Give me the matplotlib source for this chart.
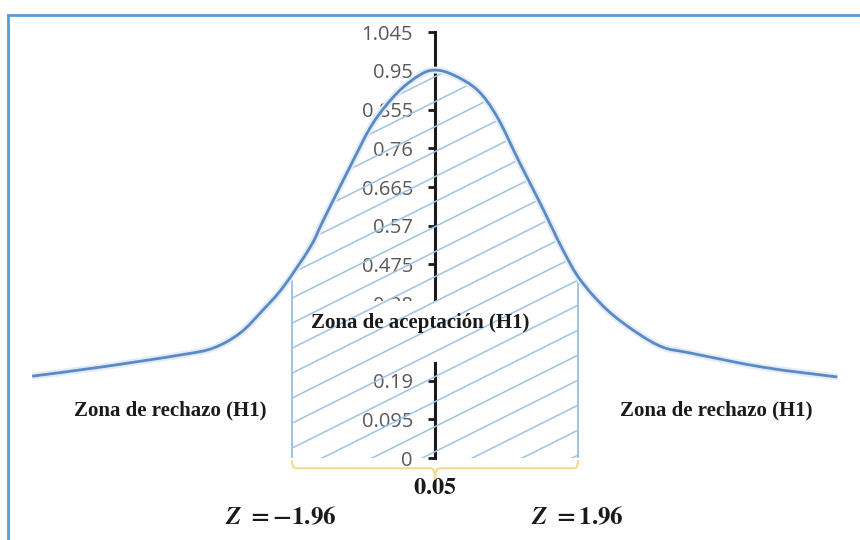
# Normal curve with acceptance / rejection zones
import numpy as np
import matplotlib.pyplot as plt
import matplotlib.patheffects as pe
from matplotlib.path import Path
from matplotlib.patches import PathPatch, Rectangle, Polygon
from matplotlib.collections import LineCollection
from matplotlib.lines import Line2D

plt.rcParams['mathtext.fontset'] = 'stix'

# Curve (z, height)
z_vals = [-5.52, -4.59, -3.49, -3.04, -2.67, -2.36, -2.08, -1.71, -1.53, -1.12, -0.85,
          -0.52, -0.21, 0.0, 0.25, 0.58, 0.85, 1.16, 1.44, 1.75, 1.99, 2.36, 2.77, 3.12,
          3.49, 4.49, 5.51]
heights = [0.201, 0.223, 0.253, 0.270, 0.307, 0.363, 0.420, 0.518, 0.584, 0.731, 0.822,
           0.896, 0.940, 0.952, 0.940, 0.903, 0.837, 0.724, 0.625, 0.511, 0.437, 0.363,
           0.307, 0.272, 0.258, 0.223, 0.199]
crit = [-1.96, 1.96]
y_ticks = [0, 0.095, 0.19, 0.285, 0.38, 0.475, 0.57, 0.665, 0.76, 0.855, 0.95, 1.045]
y_labels = ['0', '0.095', '0.19', '0.285', '0.38', '0.475', '0.57', '0.665', '0.76',
            '0.855', '0.95', '1.045']

curve_col = '#5A8AC6'
hatch_col = '#9DC3E6'

fig = plt.figure(figsize=(8.6, 5.4), dpi=100)
ax = fig.add_axes([0, 0, 1, 1])
ax.set_xlim(-5.96, 5.82)
ax.set_ylim(-0.201, 1.124)

# y axis through x=0
for s in ['top', 'right', 'bottom']:
    ax.spines[s].set_visible(False)
ax.spines['left'].set_position(('data', 0))
ax.spines['left'].set_bounds(0, 1.045)
ax.spines['left'].set_linewidth(2.2)
ax.spines['left'].set_color('#1a1a1a')
ax.set_xticks([])
ax.set_yticks(y_ticks)
ax.set_yticklabels(y_labels)
ax.tick_params(axis='y', direction='out', length=5, width=2, color='#1a1a1a',
               labelcolor='#595959', labelsize=14.5, pad=11)
for lbl in ax.get_yticklabels():
    lbl.set_fontfamily('Open Sans')

# smooth line (Catmull-Rom -> bezier), like the spreadsheet smoothing
P = np.column_stack([z_vals, heights])
ext = np.vstack([P[0], P, P[-1]])
verts = [P[0]]
codes = [Path.MOVETO]
for i in range(1, len(ext) - 2):
    p0, p1, p2, p3 = ext[i - 1], ext[i], ext[i + 1], ext[i + 2]
    verts += [p1 + (p2 - p0) / 6, p2 - (p3 - p1) / 6, p2]
    codes += [Path.CURVE4] * 3
curve = Path(verts, codes)
ax.add_patch(PathPatch(curve, fill=False, edgecolor=curve_col, lw=2, zorder=5,
                       path_effects=[pe.Stroke(linewidth=5, foreground='#E3ECF7'),
                                     pe.Normal()]))

# acceptance region under the curve
poly = curve.to_polygons(closed_only=False)[0]
xs, ys = poly[:, 0], poly[:, 1]
inside = (xs > crit[0]) & (xs < crit[1])
top_l = np.interp(crit[0], xs, ys)
top_r = np.interp(crit[1], xs, ys)
region = np.vstack([[crit[0], 0], [crit[0], top_l], np.column_stack([xs[inside], ys[inside]]),
                    [crit[1], top_r], [crit[1], 0]])
clip = Polygon(region, closed=True, facecolor='none', edgecolor='none')
ax.add_patch(clip)

# white box hiding the axis behind the label
ax.add_patch(Rectangle((-1.67, 0.236), 2.97, 0.149, facecolor='white', edgecolor='none', zorder=3))

# diagonal hatch lines
sx = 860 / (5.82 + 5.96)
sy = 540 / (1.124 + 0.201)
slope = 0.5 * sx / sy
step = 25 / sy
segs = []
for k in range(-4, 30):
    c = 0.752 - step * k
    segs.append([(-2.5, c - 2.5 * slope), (2.5, c + 2.5 * slope)])
lc = LineCollection(segs, colors=hatch_col, linewidths=1.1, zorder=4)
lc.set_clip_path(clip)
ax.add_collection(lc)
ax.vlines(crit, 0, [top_l, top_r], colors=hatch_col, lw=1.4, zorder=4)

# brace under the acceptance region
y0, y1, y2 = -0.005, -0.025, -0.052
bverts = [(crit[0], y0), (crit[0], y1), (crit[0] + 0.06, y1), (-0.06, y1), (0, y1), (0, y2),
          (0, y2), (0, y1), (0.06, y1), (crit[1] - 0.06, y1), (crit[1], y1), (crit[1], y0)]
bcodes = [Path.MOVETO, Path.CURVE3, Path.CURVE3, Path.LINETO, Path.CURVE3, Path.CURVE3,
          Path.MOVETO, Path.CURVE3, Path.CURVE3, Path.LINETO, Path.CURVE3, Path.CURVE3]
ax.add_patch(PathPatch(Path(bverts, bcodes), fill=False, edgecolor='#F5D98B', lw=1.5, zorder=4))

# labels
serif = dict(family='Liberation Serif', weight='bold', color='#1a1a1a', fontsize=15,
             ha='center', va='center', zorder=6)
ax.text(-0.2, 0.331, 'Zona de aceptación (H1)', **serif)
ax.text(-3.63, 0.118, 'Zona de rechazo (H1)', **serif)
ax.text(3.85, 0.118, 'Zona de rechazo (H1)', **serif)
ax.text(0, -0.071, r'$\mathbf{0.05}$', fontsize=17.5, ha='center', va='center', color='#1a1a1a')
ax.text(-2.12, -0.145, r'$\mathbfit{Z}\ \mathbf{=-1.96}$', fontsize=18, ha='center',
        va='center', color='#1a1a1a')
ax.text(1.95, -0.145, r'$\mathbfit{Z}\ \mathbf{=1.96}$', fontsize=18, ha='center',
        va='center', color='#1a1a1a')

# blue frame of the original picture
fig.add_artist(Line2D([8 / 860, 1], [1 - 15 / 540] * 2, transform=fig.transFigure,
                      color='#5B9BD5', lw=2))
fig.add_artist(Line2D([8 / 860] * 2, [0, 1 - 15 / 540], transform=fig.transFigure,
                      color='#5B9BD5', lw=2))

fig.savefig('out.png', dpi=100)
